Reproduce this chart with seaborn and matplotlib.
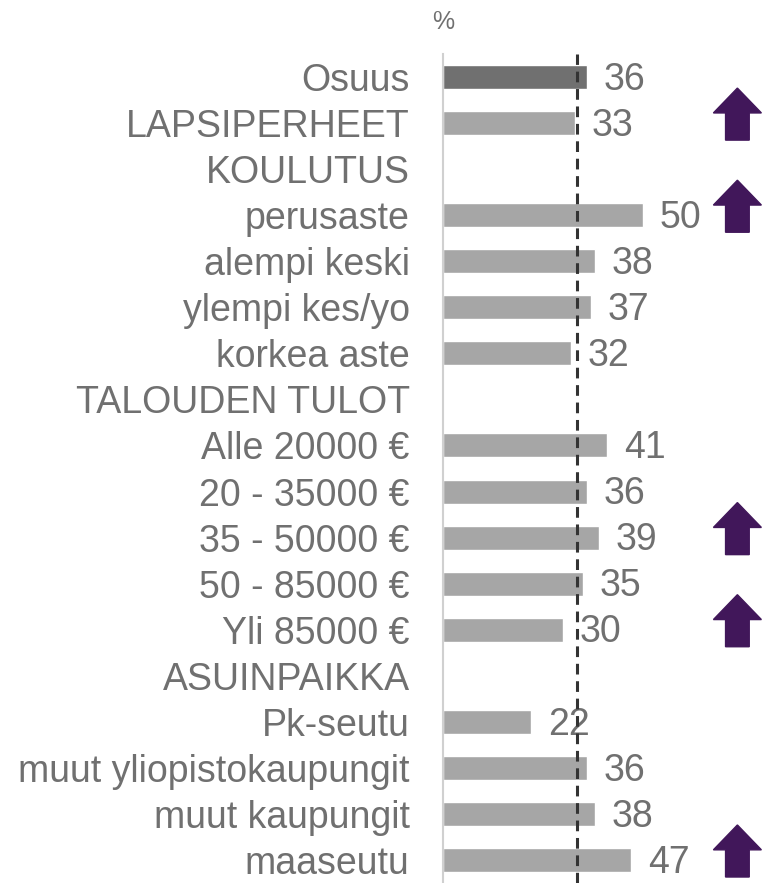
import numpy as np
import pandas as pd
import seaborn as sns
import matplotlib.pyplot as plt
from matplotlib.patches import Polygon
import matplotlib.transforms as mtransforms

# Data
labels = ['Osuus', 'LAPSIPERHEET', 'KOULUTUS', 'perusaste', 'alempi keski',
          'ylempi kes/yo', 'korkea aste', 'TALOUDEN TULOT', 'Alle 20000 €',
          '20 - 35000 €', '35 - 50000 €', '50 - 85000 €', 'Yli 85000 €',
          'ASUINPAIKKA', 'Pk-seutu', 'muut yliopistokaupungit',
          'muut kaupungit', 'maaseutu']
values = [36, 33, np.nan, 50, 38, 37, 32, np.nan, 41, 36, 39, 35, 30,
          np.nan, 22, 36, 38, 47]
ref_value = 33.6
arrow_rows = ['LAPSIPERHEET', 'perusaste', '35 - 50000 €', 'Yli 85000 €', 'maaseutu']

txt_color = '#707070'
df = pd.DataFrame({'label': labels, 'value': values})
palette = {l: ('#707070' if l == 'Osuus' else '#A6A6A6') for l in labels}

sns.set_style('white')
plt.rcParams['font.family'] = ['Liberation Sans', 'DejaVu Sans']

fig = plt.figure(figsize=(7.64, 8.83), dpi=100)
ax = fig.add_axes([443 / 764, 0, 320 / 764, (883 - 54) / 883])

sns.barplot(data=df, x='value', y='label', hue='label', order=labels,
            palette=palette, legend=False, orient='h', width=0.52,
            saturation=1, ax=ax)

ax.axvline(ref_value, color='#333333', lw=2.2, ls=(0, (3.5, 2.2)), zorder=5)

for i, v in enumerate(values):
    if not np.isnan(v):
        ax.annotate(f'{v:.0f}', (v, i), xytext=(12, -2), textcoords='offset points',
                    va='center', ha='left', fontsize=27, color=txt_color)

# significance arrows
trans = mtransforms.blended_transform_factory(ax.transAxes, ax.transData)
for lab in arrow_rows:
    i = labels.index(lab)
    cx = 0.92
    hw, sw = 0.075, 0.037
    top, mid, bot = i - 0.76, i - 0.22, i + 0.37
    pts = [(cx, top), (cx + hw, mid), (cx + sw, mid), (cx + sw, bot),
           (cx - sw, bot), (cx - sw, mid), (cx - hw, mid)]
    ax.add_patch(Polygon(pts, closed=True, transform=trans,
                         facecolor='#41175A', edgecolor='#41175A',
                         clip_on=False, zorder=6))

ax.set_xlim(0, 80)
ax.set_ylim(17.5, -0.5)
ax.set_xlabel('')
ax.set_ylabel('')
ax.set_xticks([])
ax.tick_params(axis='y', length=0, pad=24, labelsize=27, labelcolor=txt_color)
for s in ['top', 'right', 'bottom']:
    ax.spines[s].set_visible(False)
ax.spines['left'].set_color('#D0D0D0')
ax.spines['left'].set_linewidth(1.5)

fig.text(443 / 764, 1 - 22 / 883, '%', ha='center', va='center',
         fontsize=18, color=txt_color)

fig.savefig('out.png', dpi=100)
